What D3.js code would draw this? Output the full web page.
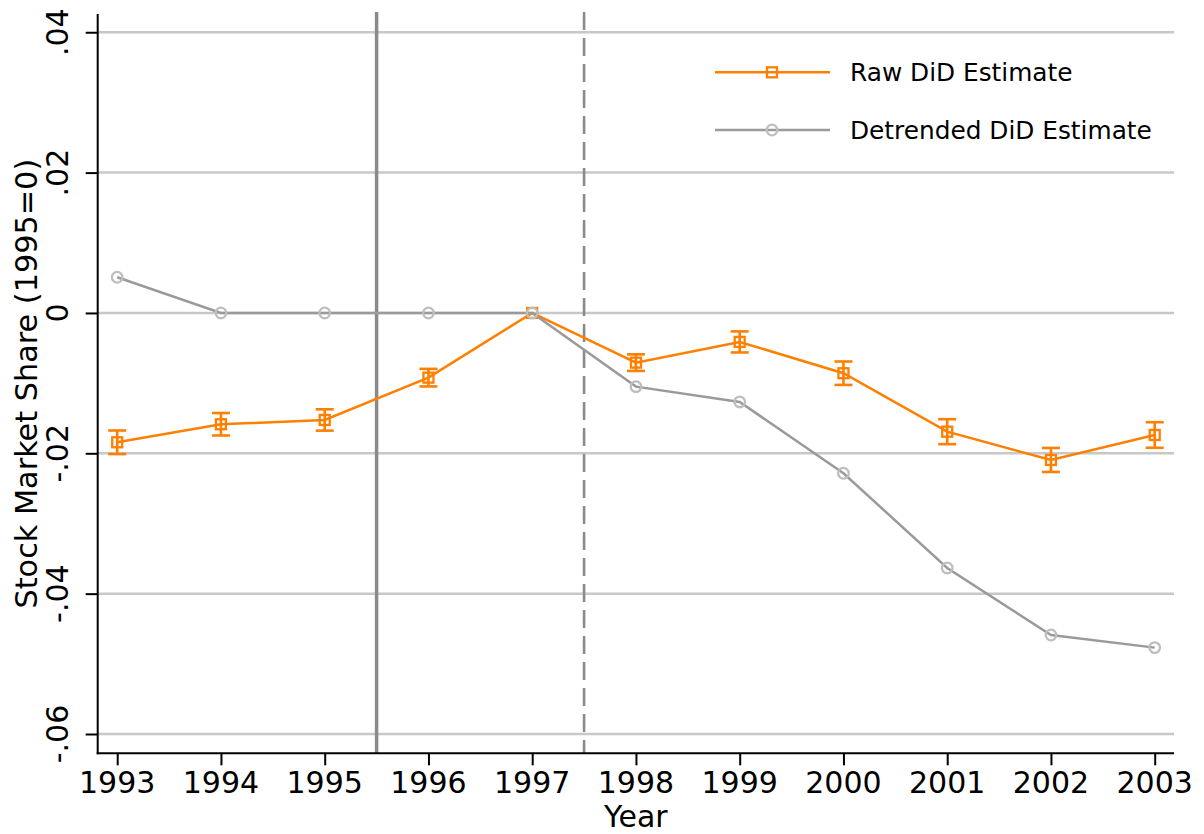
<!DOCTYPE html>
<html>
<head>
<meta charset="utf-8">
<script src="https://cdn.jsdelivr.net/npm/d3@7"></script>
<style>
  html, body { margin: 0; padding: 0; background: #fff; }
  svg { display: block; font-family: "DejaVu Sans", sans-serif; }
</style>
</head>
<body>
<svg id="chart" width="1204" height="834"></svg>
<script>
// ---- data ----
const years = [1993, 1994, 1995, 1996, 1997, 1998, 1999, 2000, 2001, 2002, 2003];
const rawEstimate = [-0.01843, -0.01586, -0.01525, -0.00922, 0, -0.00708, -0.00413, -0.00859, -0.01692, -0.02095, -0.01739];
const rawLower = [-0.02011, -0.01746, -0.01677, -0.01047, 0, -0.00826, -0.00563, -0.01026, -0.01870, -0.02266, -0.01921];
const rawUpper = [-0.01675, -0.01426, -0.01373, -0.00797, 0, -0.00590, -0.00263, -0.00692, -0.01514, -0.01924, -0.01557];
const detrendedEstimate = [0.00509, 0, 0, 0, 0, -0.0105, -0.01268, -0.02284, -0.03634, -0.04589, -0.04769];
const yTicks = [0.04, 0.02, 0, -0.02, -0.04, -0.06];
const yTickLabels = [".04", ".02", "0", "-.02", "-.04", "-.06"];
const refLineSolid = 1995.5;
const refLineDashed = 1997.5;
const seriesNames = ["Raw DiD Estimate", "Detrended DiD Estimate"];
const xTitle = "Year";
const yTitle = "Stock Market Share (1995=0)";

(function () {
// ---- layout ----
const svg = d3.select("#chart");
const pL = 97.7, pR = 1174, pT = 14, pB = 753.3;
const x = d3.scaleLinear().domain([1992.812, 2003.186]).range([pL, pR]);
const y = d3.scaleLinear().domain([-0.06275, 0.0426]).range([pB, pT]);

const orange = "#FF7F00";
const grayLine = "#9A9A9A";
const grayMarker = "#BEBEBE";
const refColor = "#8A8A8A";
const gridColor = "#C8C8C8";
const sq = 10;

// gridlines
svg.append("g").selectAll("line").data(yTicks).join("line")
  .attr("x1", pL).attr("x2", pR)
  .attr("y1", d => y(d)).attr("y2", d => y(d))
  .attr("stroke", gridColor).attr("stroke-width", 2.5);

// reference lines
svg.append("line")
  .attr("x1", x(refLineSolid)).attr("x2", x(refLineSolid))
  .attr("y1", pT - 2).attr("y2", pB)
  .attr("stroke", refColor).attr("stroke-width", 3.5);
svg.append("line")
  .attr("x1", x(refLineDashed)).attr("x2", x(refLineDashed))
  .attr("y1", pT - 2).attr("y2", pB)
  .attr("stroke", refColor).attr("stroke-width", 2.6)
  .attr("stroke-dasharray", "18,8");

// axes
const yAxis = d3.axisLeft(y).tickValues(yTicks).tickSize(12).tickFormat("");
const gy = svg.append("g").attr("transform", `translate(${pL},0)`).call(yAxis);
const xAxis = d3.axisBottom(x).tickValues(years).tickSize(12).tickFormat("");
const gx = svg.append("g").attr("transform", `translate(0,${pB})`).call(xAxis);
[gy, gx].forEach(g => {
  g.select(".domain").attr("stroke", "#000").attr("stroke-width", 2);
  g.selectAll(".tick line").attr("stroke", "#000").attr("stroke-width", 2);
});
gy.select(".domain").attr("d", `M0,${pT}V${pB + 1}`);
gx.select(".domain").attr("d", `M${pL - 1},0H${pR}`);

// tick labels
svg.append("g").selectAll("text").data(yTicks).join("text")
  .attr("transform", d => `translate(68,${y(d)}) rotate(-90)`)
  .attr("text-anchor", "middle")
  .attr("font-size", 30)
  .attr("fill", "#000")
  .text((d, i) => yTickLabels[i]);
svg.append("g").selectAll("text").data(years).join("text")
  .attr("x", d => x(d)).attr("y", 793)
  .attr("text-anchor", "middle")
  .attr("font-size", 30)
  .attr("fill", "#000")
  .text(d => d);

// axis titles
svg.append("text")
  .attr("transform", `translate(37,${(pT + pB) / 2}) rotate(-90)`)
  .attr("text-anchor", "middle").attr("font-size", 30.3).attr("fill", "#000")
  .text(yTitle);
svg.append("text")
  .attr("x", (pL + pR) / 2).attr("y", 827)
  .attr("text-anchor", "middle").attr("font-size", 30).attr("fill", "#000")
  .text(xTitle);

// raw series
const line = d3.line().x((d, i) => x(years[i])).y(d => y(d));
svg.append("path").datum(rawEstimate)
  .attr("d", line).attr("fill", "none")
  .attr("stroke", orange).attr("stroke-width", 2.5);

// error bars
const eb = svg.append("g").attr("stroke", orange).attr("stroke-width", 2.6);
years.forEach((yr, i) => {
  if (rawUpper[i] === rawLower[i]) return;
  const cx = x(yr);
  eb.append("line").attr("x1", cx).attr("x2", cx).attr("y1", y(rawUpper[i])).attr("y2", y(rawLower[i]));
  eb.append("line").attr("x1", cx - 9).attr("x2", cx + 9).attr("y1", y(rawUpper[i])).attr("y2", y(rawUpper[i]));
  eb.append("line").attr("x1", cx - 9).attr("x2", cx + 9).attr("y1", y(rawLower[i])).attr("y2", y(rawLower[i]));
});
svg.append("g").selectAll("rect").data(rawEstimate).join("rect")
  .attr("x", (d, i) => x(years[i]) - sq / 2).attr("y", d => y(d) - sq / 2)
  .attr("width", sq).attr("height", sq)
  .attr("fill", "none").attr("stroke", orange).attr("stroke-width", 2.3);

// detrended series
svg.append("path").datum(detrendedEstimate)
  .attr("d", line).attr("fill", "none")
  .attr("stroke", grayLine).attr("stroke-width", 2.5);
svg.append("g").selectAll("circle").data(detrendedEstimate).join("circle")
  .attr("cx", (d, i) => x(years[i])).attr("cy", d => y(d)).attr("r", 5.3)
  .attr("fill", "none").attr("stroke", grayMarker).attr("stroke-width", 2.3);

// legend
const legend = svg.append("g");
const legY = [72.3, 130];
legend.append("line").attr("x1", 715).attr("x2", 830).attr("y1", legY[0]).attr("y2", legY[0])
  .attr("stroke", orange).attr("stroke-width", 2.5);
legend.append("rect").attr("x", 772 - sq / 2).attr("y", legY[0] - sq / 2).attr("width", sq).attr("height", sq)
  .attr("fill", "none").attr("stroke", orange).attr("stroke-width", 2.3);
legend.append("line").attr("x1", 715).attr("x2", 830).attr("y1", legY[1]).attr("y2", legY[1])
  .attr("stroke", grayLine).attr("stroke-width", 2.5);
legend.append("circle").attr("cx", 772).attr("cy", legY[1]).attr("r", 5.3)
  .attr("fill", "none").attr("stroke", grayMarker).attr("stroke-width", 2.3);
legend.selectAll("text").data(seriesNames).join("text")
  .attr("x", 850).attr("y", (d, i) => legY[i] + 9)
  .attr("font-size", 24.8).attr("fill", "#000")
  .text(d => d);
})();
</script>
</body>
</html>
